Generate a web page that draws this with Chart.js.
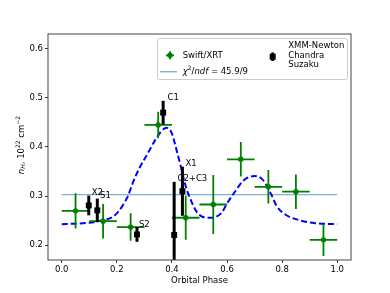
<!DOCTYPE html>
<html>
<head>
<meta charset="utf-8">
<script src="https://cdn.jsdelivr.net/npm/chart.js@4"></script>
<style>
  html, body { margin: 0; padding: 0; background: #fff; }
  canvas { display: block; }
</style>
</head>
<body>
<canvas id="nhChart" width="390" height="293"></canvas>
<script>
// Swift/XRT, binned in orbital phase
var swiftPhase = [0.05, 0.15, 0.25, 0.35, 0.45, 0.55, 0.65, 0.75, 0.85, 0.95];
var swiftPhaseErr = [0.05, 0.05, 0.05, 0.05, 0.05, 0.05, 0.05, 0.05, 0.05, 0.05];
var swiftNh = [0.270, 0.249, 0.237, 0.445, 0.256, 0.283, 0.375, 0.319, 0.309, 0.211];
var swiftNhErr = [0.036, 0.035, 0.028, 0.027, 0.045, 0.060, 0.035, 0.034, 0.035, 0.033];

// XMM-Newton, Chandra, Suzaku pointings
var obsNames = ['X2', 'S1', 'S2', 'C1', 'C2+C3', 'X1'];
var obsPhase = [0.098, 0.129, 0.273, 0.368, 0.408, 0.438];
var obsNh = [0.281, 0.271, 0.222, 0.470, 0.221, 0.310];
var obsNhErr = [0.020, 0.024, 0.015, 0.024, 0.108, 0.050];
var obsLabelX = [0.109, 0.139, 0.280, 0.384, 0.420, 0.449];
var obsLabelY = [0.306, 0.300, 0.242, 0.500, 0.336, 0.365];

// constant fit and model curve
var fitNh = 0.303;
var modelPhase = [0, 0.05, 0.1, 0.15, 0.18, 0.2, 0.22, 0.24, 0.26, 0.28, 0.3, 0.32, 0.34, 0.36,
  0.38, 0.39, 0.40, 0.41, 0.43, 0.45, 0.47, 0.49, 0.51, 0.54, 0.58, 0.6, 0.63, 0.66, 0.70, 0.73,
  0.76, 0.78, 0.81, 0.86, 0.92, 1.0];
var modelNh = [0.243, 0.244, 0.246, 0.251, 0.256, 0.265, 0.280, 0.300, 0.330, 0.355, 0.375,
  0.395, 0.415, 0.431, 0.439, 0.437, 0.427, 0.408, 0.365, 0.320, 0.290, 0.268, 0.258, 0.256,
  0.266, 0.285, 0.310, 0.332, 0.341, 0.333, 0.304, 0.280, 0.263, 0.2515, 0.245, 0.243];

var xTicks = [0.0, 0.2, 0.4, 0.6, 0.8, 1.0];
var yTicks = [0.2, 0.3, 0.4, 0.5, 0.6];

var FONT = 'DejaVu Sans';
Chart.defaults.font.family = FONT;
Chart.defaults.font.size = 8.5;
Chart.defaults.color = '#000';

function pts(xs, ys) {
  return xs.map(function (x, i) { return { x: x, y: ys[i] }; });
}

// error bars drawn just before their dataset's markers
var errorBars = {
  id: 'errorBars',
  beforeDatasetDraw: function (chart, args) {
    var c = chart.ctx, a = chart.chartArea;
    var xs = chart.scales.x, ys = chart.scales.y;
    c.save();
    c.beginPath();
    c.rect(a.left, a.top, a.right - a.left, a.bottom - a.top);
    c.clip();
    if (args.index === 1) {
      c.strokeStyle = '#008000';
      c.lineWidth = 1.8;
      swiftPhase.forEach(function (p, i) {
        var px = xs.getPixelForValue(p), py = ys.getPixelForValue(swiftNh[i]);
        c.beginPath();
        c.moveTo(xs.getPixelForValue(p - swiftPhaseErr[i]), py);
        c.lineTo(xs.getPixelForValue(p + swiftPhaseErr[i]), py);
        c.moveTo(px, ys.getPixelForValue(swiftNh[i] - swiftNhErr[i]));
        c.lineTo(px, ys.getPixelForValue(swiftNh[i] + swiftNhErr[i]));
        c.stroke();
      });
    } else if (args.index === 0) {
      c.strokeStyle = '#000';
      c.lineWidth = 3;
      obsPhase.forEach(function (p, i) {
        var px = xs.getPixelForValue(p);
        c.beginPath();
        c.moveTo(px, ys.getPixelForValue(obsNh[i] - obsNhErr[i]));
        c.lineTo(px, ys.getPixelForValue(obsNh[i] + obsNhErr[i]));
        c.stroke();
      });
    }
    c.restore();
  }
};

// draws a run of text pieces (italic / sub / sup) starting at x, centred on y
function richText(c, parts, x, y) {
  parts.forEach(function (p) {
    var size = p.small ? 6 : 8.5;
    c.font = (p.it ? 'italic ' : '') + size + 'px "' + FONT + '"';
    c.fillText(p.t, x, y + (p.dy || 0));
    x += c.measureText(p.t).width;
  });
  return x;
}
function richWidth(c, parts) {
  var w = 0;
  parts.forEach(function (p) {
    c.font = (p.it ? 'italic ' : '') + (p.small ? 6 : 8.5) + 'px "' + FONT + '"';
    w += c.measureText(p.t).width;
  });
  return w;
}

var decorations = {
  id: 'decorations',
  afterDraw: function (chart) {
    var c = chart.ctx, a = chart.chartArea;
    var xs = chart.scales.x, ys = chart.scales.y;
    c.save();

    // frame
    c.strokeStyle = '#444';
    c.lineWidth = 1;
    c.strokeRect(a.left, a.top, a.right - a.left, a.bottom - a.top);

    // point labels
    c.fillStyle = '#000';
    c.textBaseline = 'middle';
    c.textAlign = 'left';
    c.font = '8.5px "' + FONT + '"';
    obsNames.forEach(function (n, i) {
      c.fillText(n, xs.getPixelForValue(obsLabelX[i]), ys.getPixelForValue(obsLabelY[i]));
    });

    // y axis title
    var yLab = [
      { t: 'n', it: true },
      { t: 'H', it: true, small: true, dy: 2 },
      { t: ', 10' },
      { t: '22', small: true, dy: -3.5 },
      { t: ' cm' },
      { t: '\u22122', small: true, dy: -3.5 }
    ];
    c.save();
    c.translate(21.5, (a.top + a.bottom) / 2 - 2);
    c.rotate(-Math.PI / 2);
    richText(c, yLab, -richWidth(c, yLab) / 2, 0);
    c.restore();

    // legend
    c.beginPath();
    c.roundRect(157.5, 38.5, 190, 41, 2);
    c.fillStyle = 'rgba(255,255,255,0.8)';
    c.fill();
    c.strokeStyle = '#cccccc';
    c.lineWidth = 1;
    c.stroke();

    // Swift handle
    c.strokeStyle = '#008000';
    c.fillStyle = '#008000';
    c.lineWidth = 1.8;
    c.beginPath();
    c.moveTo(166, 55.3); c.lineTo(174, 55.3);
    c.moveTo(170, 51.3); c.lineTo(170, 59.3);
    c.stroke();
    c.beginPath();
    c.arc(170, 55.3, 2.7, 0, Math.PI * 2);
    c.fill();

    // chi2 handle
    c.strokeStyle = '#7eb1d6';
    c.lineWidth = 1.4;
    c.beginPath();
    c.moveTo(160, 71.7); c.lineTo(177, 71.7);
    c.stroke();

    // observatories handle
    c.fillStyle = '#000';
    c.strokeStyle = '#000';
    c.lineWidth = 3;
    c.beginPath();
    c.moveTo(272.7, 52.5); c.lineTo(272.7, 61);
    c.stroke();
    c.fillRect(269.7, 53.7, 6, 6);

    c.fillStyle = '#000';
    c.font = '8.5px "' + FONT + '"';
    c.fillText('Swift/XRT', 182.7, 55.3);
    richText(c, [
      { t: '\u03c7', it: true },
      { t: '2', small: true, dy: -3.5 },
      { t: '/' },
      { t: 'ndf', it: true },
      { t: ' = 45.9/9' }
    ], 182.7, 71.7);
    c.font = '8.5px "' + FONT + '"';
    c.fillText('XMM-Newton', 288.3, 46);
    c.fillText('Chandra', 288.3, 55.3);
    c.fillText('Suzaku', 288.3, 64.5);

    c.restore();
  }
};

var ctx = document.getElementById('nhChart').getContext('2d');

var chart = new Chart(ctx, {
  type: 'scatter',
  data: {
    datasets: [
      {
        label: 'XMM-Newton Chandra Suzaku',
        data: pts(obsPhase, obsNh),
        pointStyle: 'rect',
        pointRadius: 4.2,
        backgroundColor: '#000',
        borderColor: '#000',
        borderWidth: 0
      },
      {
        label: 'Swift/XRT',
        data: pts(swiftPhase, swiftNh),
        pointStyle: 'circle',
        pointRadius: 2.7,
        backgroundColor: '#008000',
        borderColor: '#008000',
        borderWidth: 0
      },
      {
        type: 'line',
        label: 'model',
        data: pts(modelPhase, modelNh),
        borderColor: '#0000ff',
        borderWidth: 2,
        borderDash: [6, 3],
        pointRadius: 0,
        fill: false,
        cubicInterpolationMode: 'monotone'
      },
      {
        type: 'line',
        label: 'constant',
        data: [{ x: 0, y: fitNh }, { x: 1, y: fitNh }],
        borderColor: '#7eb1d6',
        borderWidth: 1.4,
        pointRadius: 0,
        fill: false
      }
    ]
  },
  options: {
    responsive: false,
    animation: false,
    events: [],
    layout: { padding: { left: 0, top: 34, right: 39, bottom: 0 } },
    plugins: { legend: { display: false }, tooltip: { enabled: false } },
    scales: {
      x: {
        type: 'linear',
        min: -0.05,
        max: 1.05,
        afterBuildTicks: function (s) { s.ticks = xTicks.map(function (v) { return { value: v }; }); },
        afterFit: function (s) { s.height = 33; },
        ticks: { callback: function (v) { return v.toFixed(1); }, padding: 2, maxRotation: 0, autoSkip: false },
        grid: { drawOnChartArea: false, drawTicks: true, tickLength: 3, color: '#333' },
        border: { display: false },
        title: { display: true, text: 'Orbital Phase', padding: { top: 0, bottom: 7 } }
      },
      y: {
        type: 'linear',
        min: 0.17,
        max: 0.63,
        afterBuildTicks: function (s) { s.ticks = yTicks.map(function (v) { return { value: v }; }); },
        afterFit: function (s) { s.width = 48; },
        ticks: { callback: function (v) { return v.toFixed(1); }, padding: 2, autoSkip: false },
        grid: { drawOnChartArea: false, drawTicks: true, tickLength: 3, color: '#333' },
        border: { display: false }
      }
    }
  },
  plugins: [errorBars, decorations]
});
</script>
</body>
</html>
